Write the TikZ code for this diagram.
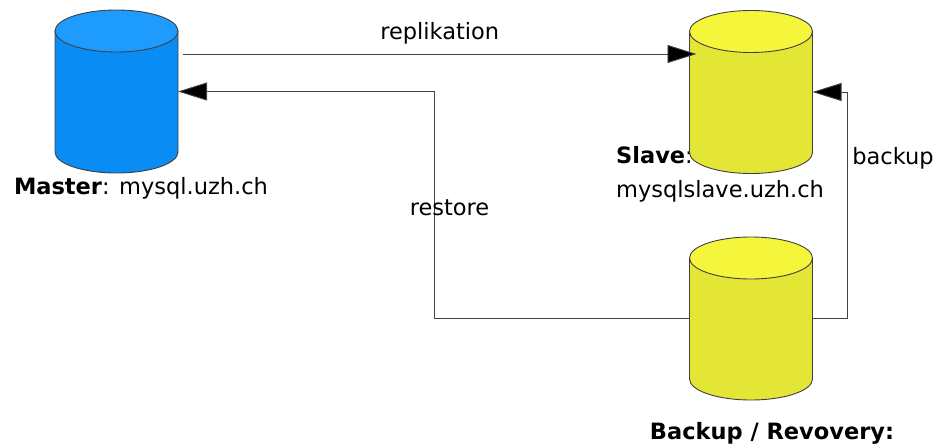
\documentclass[tikz,border=0pt]{standalone}
\usepackage{fontspec}
\setmainfont{DejaVu Sans}
\usepackage{tikz}
\usetikzlibrary{arrows.meta}

\definecolor{dbblue}{HTML}{0A8CF5}
\definecolor{dbbluetop}{HTML}{1E9BFF}
\definecolor{dbyellow}{HTML}{E4E636}
\definecolor{dbyellowtop}{HTML}{F5F53C}
\definecolor{linegray}{HTML}{444444}

\tikzset{
  pics/db/.style 2 args={code={
    \node[minimum width=123pt, minimum height=163pt, inner sep=0pt, outer sep=0pt] (-box) {};
    \filldraw[fill=#1, draw=black!75, line width=0.9pt] (-61.5,-60.5) -- (-61.5,60.5)
      arc[start angle=180, end angle=0, x radius=61.5, y radius=21] -- (61.5,-60.5) -- cycle;
    \filldraw[fill=#2, draw=black!75, line width=0.9pt] (0,-60.5) ellipse[x radius=61.5, y radius=21];
  }},
  arr/.style={draw=linegray, line width=0.9pt, -{Triangle[length=29pt,width=18pt,fill=black]}},
  lbl/.style={font=\fontsize{22.5}{34}\selectfont, inner sep=0pt}
}

\begin{document}
\begin{tikzpicture}[x=1pt,y=-1pt]
  \useasboundingbox (0,0) rectangle (940,447);

  % labels under the databases
  \node[lbl] (masterlbl) at (141,188) {\textbf{Master}: mysql.uzh.ch};
  \node[lbl,align=left,anchor=north west] (slavelbl) at (616,146) {\textbf{Slave}:\\mysqlslave.uzh.ch};
  \node[lbl] (backuplbl) at (772,433) {\textbf{Backup / Revovery:}};

  % databases
  \pic (master) at (116.5,91.5) {db={dbblue}{dbbluetop}};
  \pic (slave) at (751,92) {db={dbyellow}{dbyellowtop}};
  \pic (backup) at (751,318.5) {db={dbyellow}{dbyellowtop}};

  % connections
  \draw[arr] ([xshift=5pt]master-box.east |- 0,54) -- node[lbl,above=9pt]{replikation} ([xshift=7pt]slave-box.west |- 0,54);
  \draw[arr] (backup-box.west) -- ++(-255,0) node[lbl,pos=1,above=102pt,xshift=15pt]{restore} |- (master-box.east);
  \draw[arr] (backup-box.east) -- ++(35,0) |- (slave-box.east);
  \node[lbl] (backuptxt) at (893,158) {backup};

\end{tikzpicture}
\end{document}
